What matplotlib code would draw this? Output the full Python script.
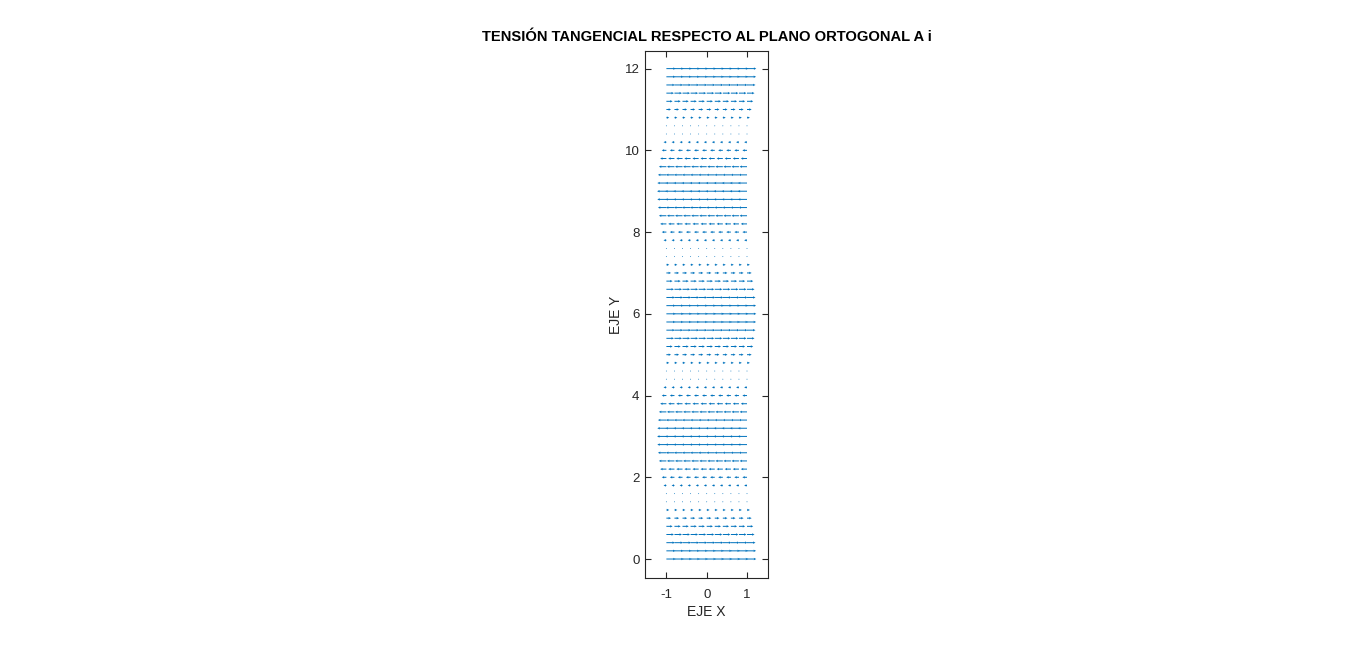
import numpy as np
import matplotlib
matplotlib.use('Agg')
import matplotlib.pyplot as plt

plt.rcParams['font.family'] = ['Liberation Sans', 'DejaVu Sans']
plt.rcParams['axes.unicode_minus'] = False

# grid of the field
x_pts = [-1.0, -0.8, -0.6, -0.4, -0.2, 0.0, 0.2, 0.4, 0.6, 0.8, 1.0]
y_pts = [round(0.2 * i, 1) for i in range(61)]

# horizontal component for each row (y = 0 ... 12)
u_rows = [0.230, 0.225, 0.210, 0.186, 0.154, 0.115, 0.071, 0.024,
          -0.024, -0.071, -0.115, -0.154, -0.186, -0.210, -0.225, -0.230,
          -0.225, -0.210, -0.186, -0.154, -0.115, -0.071, -0.024,
          0.024, 0.071, 0.115, 0.154, 0.186, 0.210, 0.225,
          0.230, 0.225, 0.210, 0.186, 0.154, 0.115, 0.071, 0.024,
          -0.024, -0.071, -0.115, -0.154, -0.186, -0.210, -0.225, -0.230,
          -0.225, -0.210, -0.186, -0.154, -0.115, -0.071, -0.024,
          0.024, 0.071, 0.115, 0.154, 0.186, 0.210, 0.225, 0.230]

X, Y = np.meshgrid(x_pts, y_pts)
U = np.repeat(np.array(u_rows)[:, None], len(x_pts), axis=1)
V = np.zeros_like(U)

fig = plt.figure(figsize=(13.66, 6.51), dpi=100)
ax = fig.add_axes([0.4722, 0.1121, 0.0900, 0.8095])

ax.quiver(X, Y, U, V, color='#0072BD', angles='xy', scale_units='xy', scale=1,
          width=0.008, headwidth=2.5, headlength=2.5, headaxislength=2.3)

ax.set_xlim(-1.53, 1.52)
ax.set_ylim(-0.465, 12.43)
ax.set_xticks([-1, 0, 1])
ax.set_yticks([0, 2, 4, 6, 8, 10, 12])
ax.tick_params(direction='in', top=True, right=True, length=4, width=0.8,
               labelsize=9.5, colors='#262626')
ax.tick_params(axis='x', pad=8)
ax.tick_params(axis='y', pad=4)
for s in ax.spines.values():
    s.set_color('#262626')
    s.set_linewidth(0.8)

ax.set_xlabel('EJE X', fontsize=10, color='#262626', labelpad=3)
ax.set_ylabel('EJE Y', fontsize=10, color='#262626', labelpad=1)
ax.set_title('TENSIÓN TANGENCIAL RESPECTO AL PLANO ORTOGONAL A i',
             fontsize=10.6, fontweight='bold', pad=7)

plt.savefig('out.png', dpi=100)
